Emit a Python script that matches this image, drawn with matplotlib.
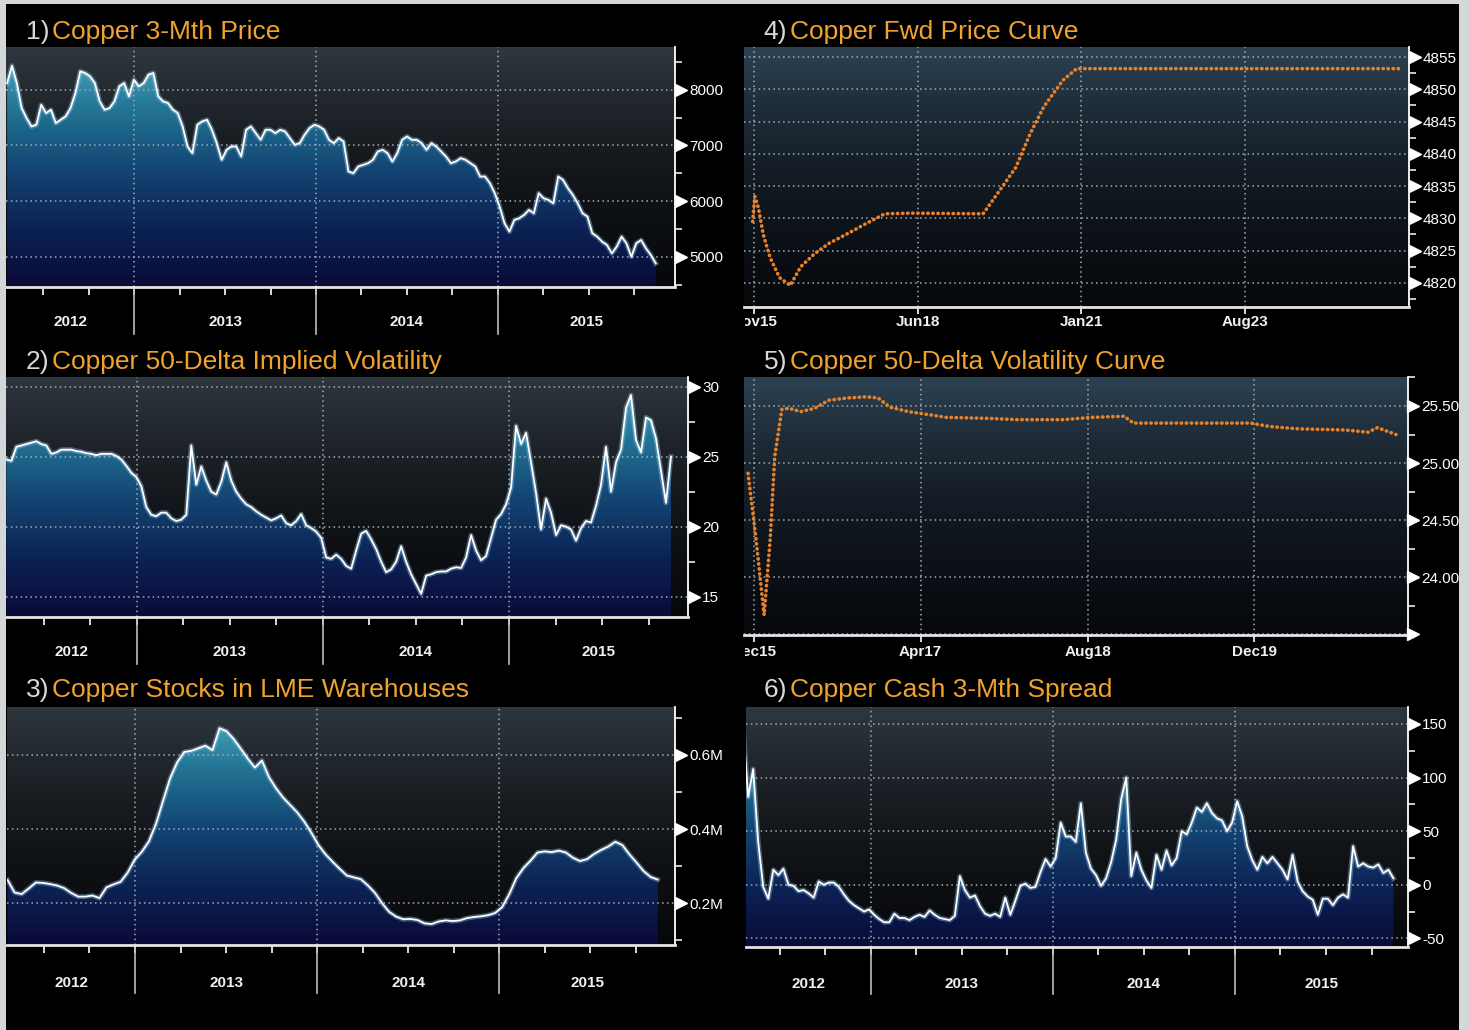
import numpy as np
import matplotlib
matplotlib.use("Agg")
import matplotlib.pyplot as plt
from matplotlib.colors import LinearSegmentedColormap
from matplotlib.patches import Rectangle
from matplotlib.transforms import (blended_transform_factory, ScaledTranslation,
                                   Bbox, TransformedBbox)

plt.rcParams['font.family'] = ['Liberation Sans Narrow', 'Liberation Sans', 'DejaVu Sans']

W, H = 1469, 1030

# ---- data ----
SERIES_START, SERIES_END = 2012.30, 2015.87   # fractional years

PRICE = [8120, 8430, 8120, 7670, 7490, 7340, 7370, 7730, 7580, 7640,
         7400, 7460, 7520, 7670, 7940, 8330, 8300, 8240, 8120, 7790,
         7640, 7670, 7790, 8060, 8120, 7880, 8180, 8060, 8120, 8270,
         8300, 7880, 7790, 7760, 7640, 7580, 7340, 6980, 6860, 7370,
         7430, 7460, 7280, 7040, 6740, 6920, 6980, 6980, 6800, 7280,
         7340, 7220, 7100, 7280, 7280, 7220, 7280, 7250, 7130, 7010,
         7040, 7190, 7310, 7370, 7340, 7280, 7100, 7040, 7130, 7070,
         6530, 6500, 6620, 6650, 6680, 6740, 6890, 6920, 6860, 6710,
         6860, 7100, 7160, 7100, 7100, 7040, 6920, 7040, 6980, 6890,
         6800, 6680, 6710, 6770, 6740, 6680, 6620, 6440, 6440, 6320,
         6140, 5900, 5600, 5450, 5660, 5690, 5750, 5840, 5780, 6140,
         6050, 6020, 5960, 6440, 6380, 6230, 6110, 5960, 5780, 5720,
         5420, 5360, 5270, 5210, 5060, 5180, 5360, 5240, 5000, 5240,
         5300, 5150, 5030, 4880]

VOL = [24.8, 24.7, 25.7, 25.8, 25.9, 26.0, 26.1, 25.9, 25.8, 25.2,
       25.3, 25.5, 25.5, 25.5, 25.4, 25.35, 25.25, 25.2, 25.1, 25.2,
       25.2, 25.2, 25.05, 24.8, 24.35, 23.85, 23.55, 22.9, 21.4, 20.85,
       20.75, 21.0, 21.0, 20.6, 20.4, 20.5, 20.85, 25.8, 23.0, 24.3,
       23.3, 22.5, 22.3, 23.2, 24.6, 23.3, 22.5, 22.0, 21.6, 21.4,
       21.1, 20.85, 20.65, 20.45, 20.6, 20.8, 20.25, 20.1, 20.4, 20.9,
       20.1, 19.9, 19.65, 19.2, 17.8, 17.7, 18.0, 17.7,
       17.2, 17.0, 18.3, 19.5, 19.7, 19.1, 18.4, 17.5, 16.75, 16.95,
       17.5, 18.6, 17.5, 16.6, 15.9, 15.2, 16.5, 16.6, 16.75, 16.8,
       16.8, 17.0, 17.1, 17.05, 17.8, 19.4, 18.3, 17.6, 17.9, 19.2,
       20.5, 20.9, 21.6, 22.8, 27.2, 25.9, 26.7, 24.6, 22.4, 19.8,
       22.0, 21.0, 19.4, 20.1, 20.0, 19.8, 19.0, 19.9, 20.4, 20.3,
       21.5, 23.0, 25.7, 22.5, 24.6, 25.5, 28.5, 29.4, 26.2, 25.3,
       27.8, 27.6, 26.3, 24.0, 21.7, 25.0]

STOCKS_M = [0.263, 0.229, 0.225, 0.240, 0.256, 0.255, 0.252, 0.248, 0.241, 0.228,
            0.218, 0.218, 0.221, 0.214, 0.243, 0.251, 0.258, 0.283, 0.318, 0.339,
            0.367, 0.414, 0.476, 0.537, 0.580, 0.608, 0.611, 0.618, 0.625, 0.613,
            0.672, 0.664, 0.643, 0.617, 0.590, 0.566, 0.585, 0.540, 0.510, 0.485,
            0.465, 0.445, 0.420, 0.390, 0.357, 0.332, 0.312, 0.293, 0.275, 0.270,
            0.265, 0.248, 0.228, 0.200, 0.177, 0.164, 0.157, 0.158, 0.155, 0.146,
            0.144, 0.151, 0.154, 0.152, 0.154, 0.160, 0.163, 0.165, 0.168, 0.174,
            0.190, 0.225, 0.268, 0.295, 0.315, 0.337, 0.340, 0.338, 0.342, 0.337,
            0.323, 0.314, 0.319, 0.333, 0.344, 0.353, 0.366, 0.357, 0.332, 0.310,
            0.287, 0.271, 0.264]

SPREAD = [150, 82, 108, 40, -2, -13, 14, 9, 15, 0,
          -1, -6, -5, -8, -12, 3, 0, 2, 2, -2,
          -9, -15, -19, -22, -25, -23, -28, -32, -35, -35,
          -27, -31, -31, -33, -30, -28, -30, -24, -28, -31,
          -32, -33, -29, 8, -5, -12, -10, -20, -27, -29,
          -27, -30, -12, -28, -15, -1, 1, -3, -2, 12,
          24, 17, 25, 58, 45, 45, 40, 76,
          30, 15, 9, -1, 6, 21, 42, 80, 100, 8,
          30, 14, 4, -3, 28, 14, 32, 18, 25, 50,
          47, 58, 72, 68, 76, 67, 62, 60, 50, 58,
          78, 64, 36, 23, 14, 26, 20, 26, 20, 14,
          5, 28, 3, -6, -11, -14, -28, -13, -13, -19,
          -12, -9, -12, 36, 17, 20, 17, 16, 19, 11,
          14, 6]

# forward curves: months after the front contract
FWD_MONTHS = [-0.2, 0.2, 0.9, 1.8, 3.1, 4.9, 6.9, 8.9, 11.5, 14.2, 17.7,
              21.3, 24.8, 30.1, 43.4, 46.1, 49.6, 52.3, 54.9, 58.5, 61.1, 122.2]
FWD_PRICE = [4829.5, 4833.4, 4831.6, 4827.5, 4823.9, 4820.8, 4819.6, 4822.5,
             4824.5, 4826.1, 4827.6, 4829.2, 4830.7, 4830.8, 4830.7, 4833.8,
             4837.9, 4843.1, 4847.3, 4851.4, 4853.2, 4853.2]
FWD_TICKS = [0, 31, 62, 93]
FWD_LABELS = ['Nov15', 'Jun18', 'Jan21', 'Aug23']

VOLC_MONTHS = [-0.55, 0.22, 0.99, 1.57, 2.01, 2.69, 3.37, 4.49, 5.84, 7.19,
               8.98, 10.79, 11.91, 13.03, 14.83, 17.08, 18.43, 22.92, 25.17,
               29.66, 32.36, 35.50, 36.40, 38.65, 43.14, 47.64, 49.44, 52.14,
               56.63, 58.88, 59.78, 61.57]
VOLC = [24.91, 24.33, 23.67, 24.33, 25.06, 25.47, 25.48, 25.45, 25.48, 25.55,
        25.57, 25.58, 25.57, 25.49, 25.45, 25.42, 25.40, 25.39, 25.38, 25.38,
        25.40, 25.41, 25.35, 25.35, 25.35, 25.35, 25.32, 25.30, 25.29, 25.27,
        25.31, 25.25]
VOLC_TICKS = [0, 16, 32, 48]
VOLC_LABELS = ['Dec15', 'Apr17', 'Aug18', 'Dec19']

TITLES = ['Copper 3-Mth Price', 'Copper 50-Delta Implied Volatility',
          'Copper Stocks in LME Warehouses', 'Copper Fwd Price Curve',
          'Copper 50-Delta Volatility Curve', 'Copper Cash 3-Mth Spread']

# ---- styling ----
ORANGE = '#f0a22e'
GRID = '#a3acb5'
DOTTED = (0, (1, 2.2))
FILL = LinearSegmentedColormap.from_list(
    'fill', [(0, '#0a0a38'), (0.25, '#0c2355'), (0.5, '#134674'),
             (0.75, '#237696'), (1.0, '#52b2c2')])
BG = LinearSegmentedColormap.from_list(
    'bg', [(0, '#06070a'), (0.45, '#121519'), (0.75, '#1f252b'), (1.0, '#2f373f')])
BG_BLUE = LinearSegmentedColormap.from_list(
    'bgb', [(0, '#06080b'), (0.45, '#111820'), (0.75, '#1e2b37'), (1.0, '#2c4253')])
GRAD = np.linspace(0, 1, 256).reshape(-1, 1)

fig = plt.figure(figsize=(W / 100, H / 100), dpi=100, facecolor='black')

# light frame of the screenshot
for x, y, w, h in [(0, 0, 6, H), (0, H - 4, W, 4), (W - 10, 0, 10, H)]:
    fig.patches.append(Rectangle((x / W, y / H), w / W, h / H, transform=fig.transFigure,
                                 facecolor='#d3d7da', edgecolor='none'))


def px_axes(x0, y0, x1, y1):
    ax = fig.add_axes([x0 / W, 1 - y1 / H, (x1 - x0) / W, (y1 - y0) / H])
    ax.set_facecolor('black')
    return ax, (y1 - y0)


def background(ax, xlim, ylim, cmap):
    ax.imshow(GRAD, cmap=cmap, origin='lower', aspect='auto', interpolation='bicubic',
              extent=[xlim[0], xlim[1], ylim[0], ylim[1]], zorder=0)
    ax.set_xlim(*xlim)
    ax.set_ylim(*ylim)


def right_axis(ax, major, minor, labels):
    ax.yaxis.tick_right()
    ax.set_yticks(major)
    ax.set_yticklabels(labels)
    ax.set_yticks(minor, minor=True)
    ax.tick_params(axis='y', which='major', length=0, pad=10, labelcolor='white',
                   labelsize=11)
    ax.tick_params(axis='y', which='minor', length=5, width=1.1, color='white',
                   direction='out')
    tri = blended_transform_factory(ax.transAxes, ax.transData) + \
        ScaledTranslation(4 / 72, 0, fig.dpi_scale_trans)
    ax.plot(np.ones(len(major)), major, ls='none', marker='>', ms=8, color='white',
            transform=tri, clip_on=False, zorder=6)
    for v in major:
        ax.axhline(v, color=GRID, ls=DOTTED, lw=1.1, zorder=2)
    for s in ('left', 'top'):
        ax.spines[s].set_visible(False)
    ax.spines['right'].set_color('white')
    ax.spines['right'].set_linewidth(1.3)
    ax.spines['bottom'].set_color('#e4e4e4')
    ax.spines['bottom'].set_linewidth(2)


def year_axis(ax, xlim, h_px, label_px, sep_px):
    quarters = [q for q in np.arange(2012.0, 2016.01, 0.25) if xlim[0] < q < xlim[1]]
    ax.set_xticks(quarters)
    ax.set_xticklabels([])
    ax.tick_params(axis='x', length=6, width=1.2, color='white', direction='out')
    bt = blended_transform_factory(ax.transData, ax.transAxes)
    for yr in (2013, 2014, 2015):
        ax.axvline(yr, color=GRID, ls=DOTTED, lw=1.1, zorder=2)
        ax.plot([yr, yr], [0, -sep_px / h_px], color='#b9bec4', lw=1.2,
                transform=bt, clip_on=False)
    for yr in (2012, 2013, 2014, 2015):
        a, b = max(xlim[0], yr), min(xlim[1], yr + 1)
        ax.text((a + b) / 2, -label_px / h_px, str(yr), transform=bt, ha='center',
                va='center', color='#f0f0f0', fontsize=11, fontweight='bold')


def area(ax, values, ylim, xlim):
    x = np.linspace(SERIES_START, SERIES_END, len(values))
    poly = ax.fill_between(x, values, ylim[0], facecolor='none', edgecolor='none')
    im = ax.imshow(GRAD, cmap=FILL, origin='lower', aspect='auto', interpolation='bicubic',
                   extent=[xlim[0], xlim[1], ylim[0], ylim[1]], zorder=1)
    im.set_clip_path(poly.get_paths()[0], transform=ax.transData)
    ax.plot(x, values, color='#9fd6ff', lw=3.6, alpha=0.35, zorder=3, solid_joinstyle='round')
    ax.plot(x, values, color='white', lw=1.3, zorder=4, solid_joinstyle='round')
    ax.set_xlim(*xlim)
    ax.set_ylim(*ylim)


def curve_axis(ax, ticks, labels, h_px, label_px):
    ax.set_xticks(ticks)
    ax.set_xticklabels([])
    ax.tick_params(axis='x', length=5, width=1.2, color='white', direction='out')
    bt = blended_transform_factory(ax.transData, ax.transAxes)
    clip = TransformedBbox(Bbox.from_extents(745 / W, 0, 1, 1), fig.transFigure)
    for t, lab in zip(ticks, labels):
        ax.axvline(t, color=GRID, ls=DOTTED, lw=1.1, zorder=2)
        txt = ax.text(t, -label_px / h_px, lab, transform=bt, ha='center', va='center',
                      color='#f0f0f0', fontsize=11, fontweight='bold')
        txt.set_clip_on(True)
        txt.set_clip_box(clip)


def dotted_curve(ax, x, y):
    ax.plot(x, y, color='#e8822a', lw=2.6, ls=(0, (0.1, 1.3)), dash_capstyle='round',
            zorder=4)


def title(x_num, x_txt, base_y, num, text):
    fig.text(x_num / W, 1 - base_y / H, num, color='#d8d8d8', fontsize=19,
             va='baseline', ha='right')
    fig.text(x_txt / W, 1 - base_y / H, text, color=ORANGE, fontsize=19, va='baseline')


# 1) price
ax, h = px_axes(6, 46.7, 675, 286.7)
xl, yl = (2012.294, 2015.976), (4461, 8772)
background(ax, xl, yl, BG)
area(ax, PRICE, yl, xl)
right_axis(ax, [5000, 6000, 7000, 8000], [4500, 5500, 6500, 7500, 8500],
           ['5000', '6000', '7000', '8000'])
year_axis(ax, xl, h, 35, 47)

# 2) implied vol
ax, h = px_axes(6, 376.7, 688.3, 616.7)
xl, yl = (2012.298, 2015.963), (13.57, 30.71)
background(ax, xl, yl, BG)
area(ax, VOL, yl, xl)
right_axis(ax, [15, 20, 25, 30], [17.5, 22.5, 27.5], ['15', '20', '25', '30'])
year_axis(ax, xl, h, 35, 47)

# 3) LME stocks
ax, h = px_axes(7, 706.7, 675, 945)
xl, yl = (2012.297, 2015.965), (0.0876, 0.730)
background(ax, xl, yl, BG)
area(ax, STOCKS_M, yl, xl)
right_axis(ax, [0.2, 0.4, 0.6], [0.1, 0.3, 0.5, 0.7], ['0.2M', '0.4M', '0.6M'])
year_axis(ax, xl, h, 38, 48)

# 4) forward price curve
ax, h = px_axes(744, 46.7, 1409, 306.7)
xl, yl = (-1.84, 124.0), (4816.3, 4856.6)
background(ax, xl, yl, BG_BLUE)
dotted_curve(ax, FWD_MONTHS, FWD_PRICE)
right_axis(ax, list(range(4820, 4856, 5)), [4817.5 + 5 * i for i in range(8)],
           [str(v) for v in range(4820, 4856, 5)])
curve_axis(ax, FWD_TICKS, FWD_LABELS, h, 15)

# 5) vol curve
ax, h = px_axes(744.4, 376.7, 1407.8, 635)
xl, yl = (-0.9, 62.7), (23.495, 25.756)
background(ax, xl, yl, BG_BLUE)
dotted_curve(ax, VOLC_MONTHS, VOLC)
right_axis(ax, [23.5, 24.0, 24.5, 25.0, 25.5], [23.75, 24.25, 24.75, 25.25, 25.75],
           ['', '24.00', '24.50', '25.00', '25.50'])
curve_axis(ax, VOLC_TICKS, VOLC_LABELS, h, 17)

# 6) cash 3-mth spread
ax, h = px_axes(746, 706.7, 1408, 946.7)
xl, yl = (2012.316, 2015.950), (-57.8, 166.1)
background(ax, xl, yl, BG)
area(ax, SPREAD, yl, xl)
right_axis(ax, [-50, 0, 50, 100, 150], [-25, 25, 75, 125],
           ['-50', '0', '50', '100', '150'])
year_axis(ax, xl, h, 37, 47)

for i, (xn, xt, by) in enumerate([(49, 52, 38.5), (49, 52, 369), (49, 52, 697),
                                  (787, 790, 38.5), (787, 790, 369), (787, 790, 697)]):
    title(xn, xt, by, f'{i + 1})', TITLES[i])

fig.savefig('out.png', dpi=100, facecolor='black')
